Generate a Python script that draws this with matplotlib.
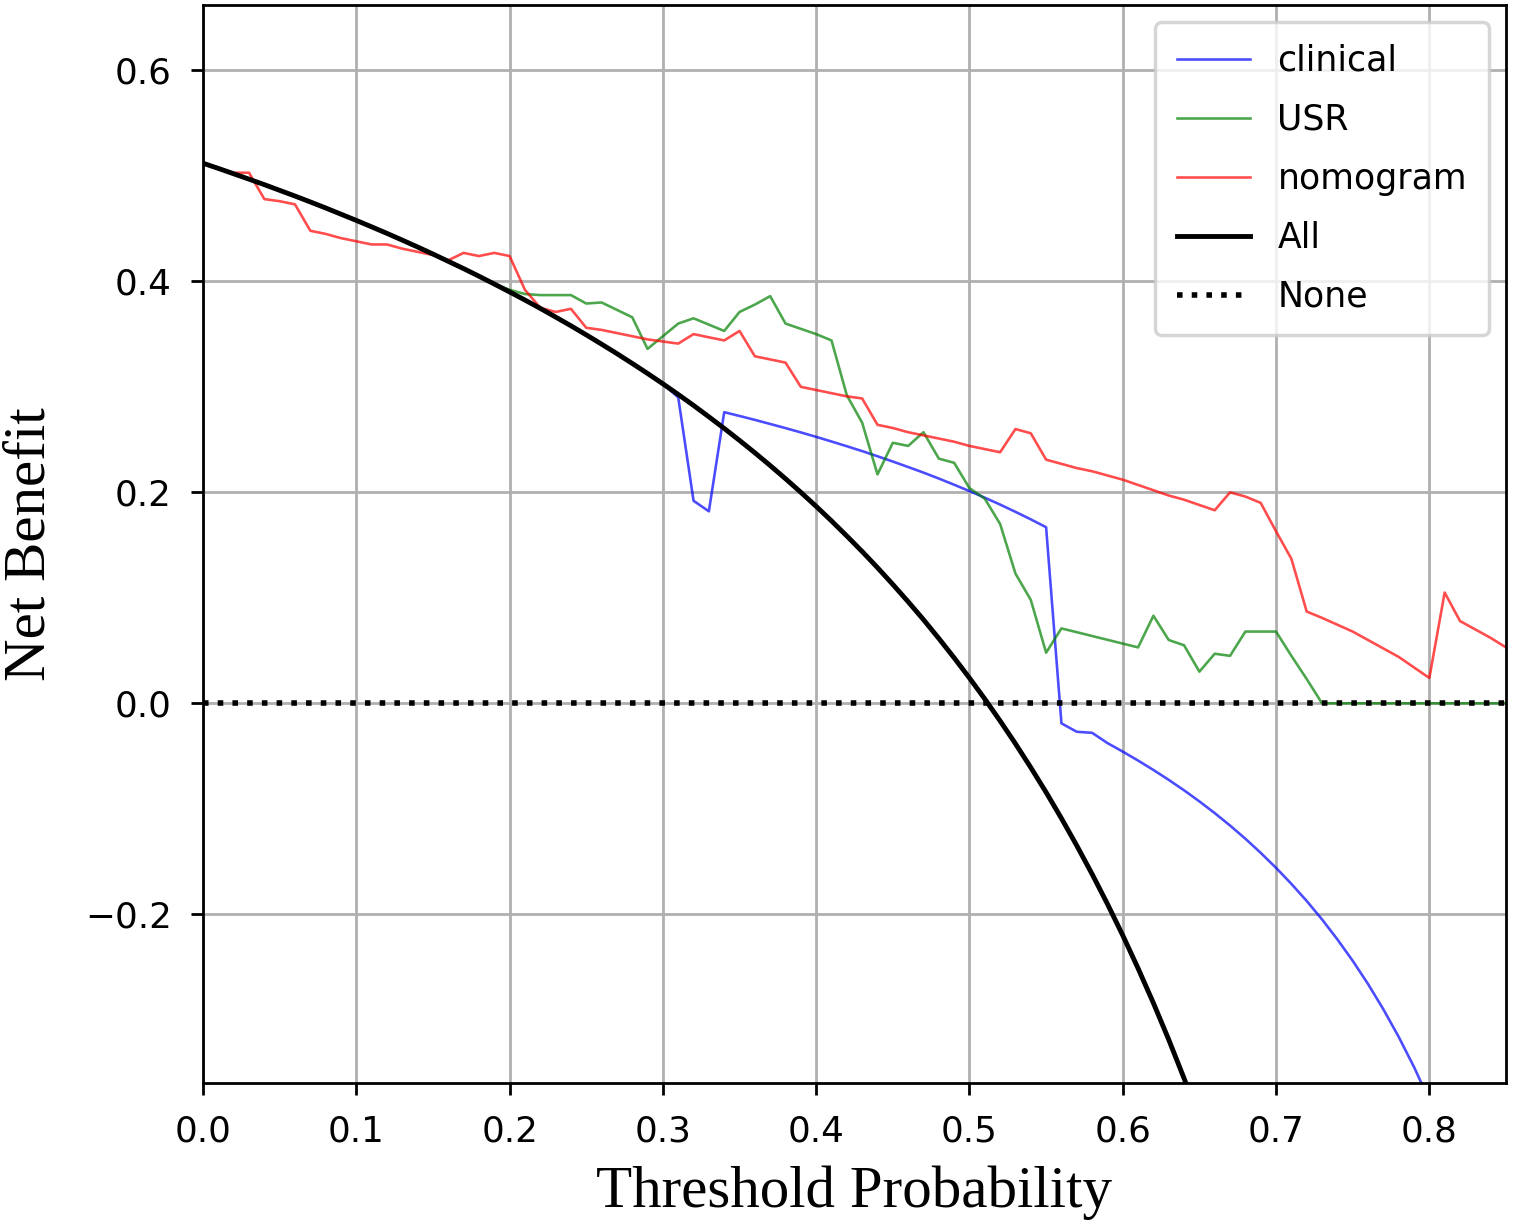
import numpy as np
import matplotlib
matplotlib.use("Agg")
import matplotlib.pyplot as plt

# threshold grid used by the decision curve (step 0.01)
thresholds = np.round(np.arange(0, 0.86, 0.01), 2)

# net benefit
nb_all = [0.512, 0.5071, 0.5020, 0.4969, 0.4917, 0.4863, 0.4809, 0.4753, 0.4696, 0.4637,
          0.4578, 0.4517, 0.4455, 0.4391, 0.4326, 0.4259, 0.4190, 0.4121, 0.4049, 0.3975,
          0.3900, 0.3823, 0.3744, 0.3662, 0.3579, 0.3493, 0.3405, 0.3315, 0.3222, 0.3127,
          0.3029, 0.2928, 0.2824, 0.2716, 0.2606, 0.2492, 0.2375, 0.2254, 0.2129, 0.2000,
          0.1867, 0.1729, 0.1586, 0.1439, 0.1286, 0.1127, 0.0963, 0.0793, 0.0615, 0.0431,
          0.0240, 0.0041, -0.0167, -0.0383, -0.0609, -0.0844, -0.1091, -0.1349, -0.1619, -0.1902,
          -0.2200, -0.2513, -0.2842, -0.3189, -0.3556, -0.3943]

nb_clinical = [0.512, 0.5071, 0.5020, 0.4969, 0.4917, 0.4863, 0.4809, 0.4753, 0.4696, 0.4637,
               0.4578, 0.4517, 0.4455, 0.4391, 0.4326, 0.4259, 0.4190, 0.4121, 0.4049, 0.3975,
               0.3900, 0.3823, 0.3744, 0.3662, 0.3579, 0.3493, 0.3405, 0.3315, 0.3222, 0.3127,
               0.3029, 0.2900, 0.192, 0.182, 0.276, 0.2724, 0.2687, 0.2648, 0.2609, 0.2568,
               0.2526, 0.2482, 0.2437, 0.2391, 0.2342, 0.2292, 0.2240, 0.2187, 0.2131, 0.2072,
               0.2012, 0.1949, 0.1884, 0.1815, 0.1744, 0.1669, -0.019, -0.027, -0.028, -0.0377,
               -0.0458, -0.0543, -0.0632, -0.0726, -0.0825, -0.0930, -0.1041, -0.1159, -0.1284, -0.1418,
               -0.1560, -0.1712, -0.1874, -0.2049, -0.2238, -0.2441, -0.2661, -0.2901, -0.3162, -0.3448,
               -0.3763, -0.4111]

nb_usr = [0.512, 0.5071, 0.5020, 0.4969, 0.4917, 0.4863, 0.4809, 0.4753, 0.4696, 0.4637,
          0.4578, 0.4517, 0.4455, 0.4391, 0.4326, 0.4259, 0.4190, 0.4121, 0.4049, 0.3975,
          0.392, 0.388, 0.387, 0.387, 0.387, 0.379, 0.380, 0.373, 0.366, 0.336,
          0.348, 0.360, 0.365, 0.359, 0.353, 0.371, 0.378, 0.386, 0.360, 0.355,
          0.350, 0.344, 0.292, 0.266, 0.217, 0.247, 0.244, 0.257, 0.232, 0.228,
          0.204, 0.194, 0.170, 0.123, 0.098, 0.048, 0.071, 0.0674, 0.0638, 0.0602,
          0.0566, 0.053, 0.083, 0.060, 0.055, 0.030, 0.047, 0.045, 0.068, 0.068,
          0.068, 0.045, 0.023, 0.0, 0.0, 0.0, 0.0, 0.0, 0.0, 0.0,
          0.0, 0.0, 0.0, 0.0, 0.0, 0.0]

nb_nomogram = [0.512, 0.5075, 0.503, 0.503, 0.478, 0.476, 0.473, 0.448, 0.445, 0.441,
               0.438, 0.435, 0.435, 0.431, 0.428, 0.425, 0.420, 0.427, 0.424, 0.427,
               0.424, 0.392, 0.375, 0.371, 0.374, 0.356, 0.354, 0.351, 0.348, 0.345,
               0.343, 0.341, 0.350, 0.347, 0.344, 0.353, 0.329, 0.326, 0.323, 0.300,
               0.297, 0.294, 0.291, 0.289, 0.264, 0.261, 0.257, 0.254, 0.251, 0.248,
               0.244, 0.241, 0.238, 0.260, 0.256, 0.231, 0.227, 0.223, 0.220, 0.216,
               0.212, 0.207, 0.202, 0.197, 0.193, 0.188, 0.183, 0.200, 0.196, 0.190,
               0.163, 0.137, 0.087, 0.081, 0.0745, 0.068, 0.060, 0.052, 0.044, 0.034,
               0.024, 0.105, 0.078, 0.070, 0.062, 0.053]

nb_none = [0.0] * len(thresholds)

fig, ax = plt.subplots(figsize=(1514 / 250, 1225 / 250), dpi=250)
fig.subplots_adjust(left=0.1341, right=0.9947, bottom=0.1159, top=0.9959)

ax.plot(thresholds[:len(nb_clinical)], nb_clinical, color='blue', alpha=0.7, lw=0.75, label='clinical')
ax.plot(thresholds[:len(nb_usr)], nb_usr, color='green', alpha=0.7, lw=0.75, label='USR')
ax.plot(thresholds[:len(nb_nomogram)], nb_nomogram, color='red', alpha=0.7, lw=0.75, label='nomogram')
ax.plot(thresholds[:len(nb_all)], nb_all, color='black', lw=1.4, label='All')
ax.plot(thresholds, nb_none, color='black', lw=1.6, linestyle=':', label='None')

ax.set_xlim(0, 0.85)
ax.set_ylim(-0.36, 0.662)
ax.set_yticks([-0.2, 0.0, 0.2, 0.4, 0.6])
ax.tick_params(labelsize=10.3, pad=5.5)
ax.grid(True)

serif = ['Liberation Serif', 'DejaVu Serif']
ax.set_xlabel('Threshold Probability', fontsize=17, family=serif, labelpad=5)
ax.set_ylabel('Net Benefit', fontsize=17, family=serif, labelpad=8)

ax.legend(loc='upper right', fontsize=10, handlelength=2.1, labelspacing=0.72,
          borderpad=0.62)

plt.savefig('out.png', dpi=250)
